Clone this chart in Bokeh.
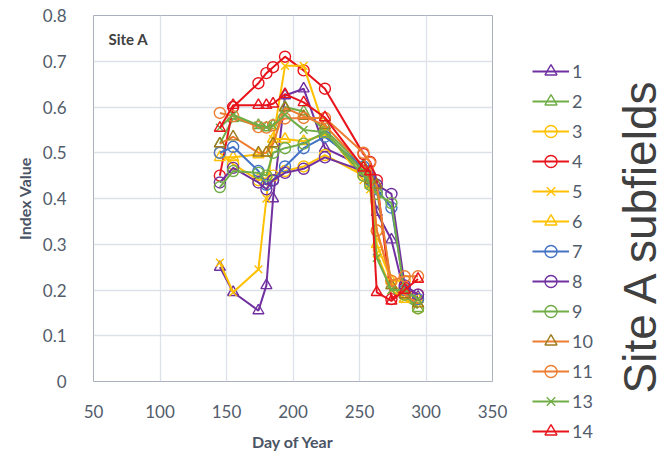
import math
from bokeh.plotting import figure
from bokeh.layouts import row
from bokeh.models import (Legend, LegendItem, Label, ColumnDataSource, Range1d,
                          FixedTicker, Title)
from bokeh.embed import file_html
from bokeh.resources import INLINE

# ---------------- data ----------------
DAYS = [145, 155, 174, 180, 185, 194, 208, 224, 253, 258, 263, 274, 284, 294]

SUBFIELDS = ["1", "2", "3", "4", "5", "6", "7", "8", "9", "10", "11", "13", "14"]

S1 = [0.25, 0.195, 0.155, 0.21, 0.40, 0.625, 0.64, 0.51, 0.47, 0.45, 0.37, 0.31, 0.19, 0.185]
S2 = [0.52, 0.575, 0.56, 0.555, 0.56, 0.60, 0.59, 0.55, 0.47, 0.445, 0.42, 0.21, 0.18, 0.16]
S3 = [0.50, 0.475, 0.44, 0.445, 0.45, 0.46, 0.47, 0.495, 0.45, 0.44, 0.33, 0.22, 0.22, 0.16]
S4 = [0.45, 0.60, 0.652, 0.674, 0.687, 0.71, 0.68, 0.64, 0.497, 0.48, 0.44, 0.18, 0.205, 0.19]
S5 = [0.26, 0.195, 0.245, 0.40, 0.53, 0.69, 0.69, 0.55, 0.44, 0.42, 0.28, 0.20, 0.18, 0.17]
S6 = [0.49, 0.49, 0.496, 0.50, 0.53, 0.53, 0.525, 0.54, 0.46, 0.43, 0.30, 0.22, 0.18, 0.18]
S7 = [0.50, 0.513, 0.46, 0.43, 0.44, 0.47, 0.51, 0.535, 0.47, 0.44, 0.42, 0.38, 0.20, 0.18]
S8 = [0.435, 0.467, 0.435, 0.42, 0.44, 0.456, 0.465, 0.49, 0.46, 0.45, 0.43, 0.41, 0.21, 0.19]
S9 = [0.425, 0.46, 0.456, 0.45, 0.50, 0.51, 0.52, 0.545, 0.45, 0.43, 0.41, 0.39, 0.19, 0.16]
S10 = [0.52, 0.535, 0.50, 0.50, 0.52, 0.598, 0.58, 0.56, 0.47, 0.44, 0.43, 0.21, 0.19, 0.17]
S11 = [0.587, 0.58, 0.556, 0.555, 0.56, 0.575, 0.576, 0.576, 0.50, 0.478, 0.33, 0.22, 0.23, 0.23]
S13 = [0.555, 0.583, 0.56, 0.556, 0.56, 0.583, 0.55, 0.545, 0.46, 0.43, 0.27, 0.20, 0.20, 0.18]
S14 = [0.554, 0.604, 0.604, 0.604, 0.607, 0.628, 0.61, 0.577, 0.467, 0.459, 0.195, 0.176, 0.20, 0.224]

VALUES = [S1, S2, S3, S4, S5, S6, S7, S8, S9, S10, S11, S13, S14]

X_TICKS = [50, 100, 150, 200, 250, 300, 350]
Y_TICKS = [0, 0.1, 0.2, 0.3, 0.4, 0.5, 0.6, 0.7, 0.8]
Y_TICK_LABELS = ["0", "0.1", "0.2", "0.3", "0.4", "0.5", "0.6", "0.7", "0.8"]

# ---------------- styles ----------------
PURPLE = "#7030A0"
GREEN = "#70AD47"
GOLD = "#FFC000"
RED = "#E8141C"
BLUE = "#4472C4"
ORANGE = "#ED7D31"
OLIVE = "#9E7A1E"

STYLES = [
    (PURPLE, "triangle", PURPLE),
    (GREEN, "triangle", GREEN),
    (GOLD, "circle", GOLD),
    (RED, "circle", RED),
    (GOLD, "x", GOLD),
    (GOLD, "triangle", GOLD),
    (BLUE, "circle", BLUE),
    (PURPLE, "circle", PURPLE),
    (GREEN, "circle", GREEN),
    (ORANGE, "triangle", OLIVE),
    (ORANGE, "circle", ORANGE),
    (GREEN, "x", GREEN),
    (RED, "triangle", RED),
]

TEXT = "#525C6B"
FONT = "Lato"

p = figure(width=532, height=453, output_backend="svg", toolbar_location=None,
           x_range=Range1d(50, 350), y_range=Range1d(0, 0.8),
           min_border_left=93, min_border_right=40, min_border_top=15, min_border_bottom=70)

p.background_fill_color = "white"
p.border_fill_color = "white"
p.outline_line_color = "#A9AFBB"
p.outline_line_width = 1

for ax in (p.xaxis, p.yaxis):
    ax.axis_line_color = None
    ax.major_tick_line_color = None
    ax.minor_tick_line_color = None
    ax.major_label_text_font = FONT
    ax.major_label_text_font_size = "17px"
    ax.major_label_text_color = TEXT
    ax.axis_label_text_font = FONT
    ax.axis_label_text_font_style = "bold"
    ax.axis_label_text_color = "#4A5466"

p.xaxis.ticker = FixedTicker(ticks=X_TICKS)
p.yaxis.ticker = FixedTicker(ticks=Y_TICKS)
p.yaxis.major_label_overrides = {t: l for t, l in zip(Y_TICKS, Y_TICK_LABELS)}
p.xaxis.axis_label = "Day of Year"
p.yaxis.axis_label = "Index Value"
p.xaxis.axis_label_text_font_size = "16px"
p.yaxis.axis_label_text_font_size = "16px"
p.xaxis.major_label_standoff = 17
p.yaxis.major_label_standoff = 21
p.xaxis.axis_label_standoff = 11
p.yaxis.axis_label_standoff = 6

p.xgrid.grid_line_color = "#DDE1E9"
p.ygrid.grid_line_color = "#DDE1E9"
p.xgrid.grid_line_width = 1.3
p.ygrid.grid_line_width = 1.3

sources = []
for vals, (lc, marker, mc) in zip(VALUES, STYLES):
    src = ColumnDataSource(dict(x=DAYS, y=vals))
    sources.append(src)
    p.line("x", "y", source=src, line_color=lc, line_width=2)
    p.scatter("x", "y", source=src, marker=marker, size=11,
              line_color=mc, line_width=1.4, fill_alpha=0)

p.add_layout(Label(x=15, y=343, x_units="screen", y_units="screen",
                   text="Site A", text_font=FONT, text_font_size="15px",
                   text_font_style="bold", text_color="#404040",
                   text_baseline="middle", text_align="left"))

# ---------------- legend + caption panel ----------------
# same data sources; this panel's ranges keep the marks themselves out of view,
# the renderers only feed the legend glyphs
p2 = figure(width=133, height=453, output_backend="svg", toolbar_location=None,
            x_range=Range1d(0, 1), y_range=Range1d(0, 1),
            x_axis_type=None, y_axis_type=None,
            min_border_left=0, min_border_right=0, min_border_top=15, min_border_bottom=70)
p2.grid.visible = False
p2.outline_line_color = None
p2.background_fill_color = "white"
p2.border_fill_color = "white"

items = []
for name, src, (lc, marker, mc) in zip(SUBFIELDS, sources, STYLES):
    lr = p2.line("x", "y", source=src, line_color=lc, line_width=2)
    sr = p2.scatter("x", "y", source=src, marker=marker, size=11,
                    line_color=mc, line_width=1.4, fill_alpha=0)
    items.append(LegendItem(label=name, renderers=[lr, sr]))

p2.add_layout(Title(text="Site A subfields", align="left", offset=-12,
                    text_font="Liberation Sans", text_font_size="46px",
                    text_font_style="normal", text_color="#404040",
                    standoff=0), "left")

legend = Legend(items=items, location="top_left", orientation="vertical",
                glyph_width=37, glyph_height=30, label_height=30, label_width=40,
                spacing=0, padding=0, margin=0, label_standoff=3,
                label_text_font=FONT, label_text_font_size="18px",
                label_text_color=TEXT, border_line_alpha=0,
                background_fill_alpha=0,
                title=" ", title_text_font_size="10px", title_standoff=30)
p2.add_layout(legend, "left")

layout = row(p, p2, spacing=0)
open("out.html", "w").write(file_html(layout, INLINE))
